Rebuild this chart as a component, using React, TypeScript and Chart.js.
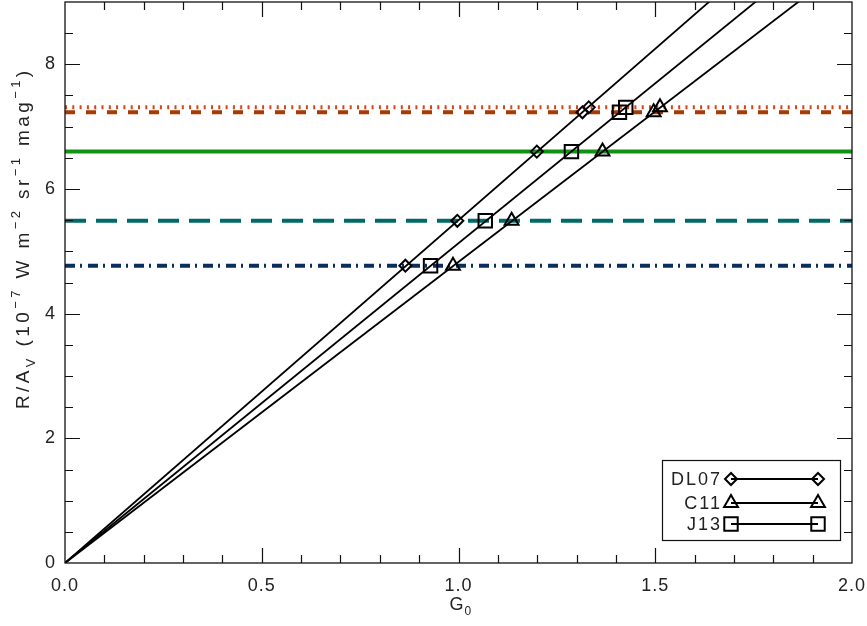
import React, { useEffect, useRef } from 'react';
import { Chart, registerables } from 'chart.js';

Chart.register(...registerables);

// ---- data ----
const LEVELS = [4.77, 5.49, 6.6, 7.23, 7.31];
const LINE_X = [0.0, 2.0];
const DL07_LINE_Y = [0.0, 11.0];
const C11_LINE_Y = [0.0, 9.66];
const J13_LINE_Y = [0.0, 10.26];
const DL07_X = [0.865, 0.997, 1.199, 1.315, 1.331];
const C11_X = [0.986, 1.135, 1.366, 1.496, 1.512];
const J13_X = [0.929, 1.068, 1.287, 1.409, 1.425];
const LEGEND_LABELS = ['DL07', 'C11', 'J13'];
const X_RANGE = [0, 2];
const Y_RANGE = [0, 9];
const X_MAJOR_STEP = 0.5;
const X_MINOR_STEP = 0.1;
const Y_MAJOR_STEP = 2;
const Y_MINOR_STEP = 0.5;

// ---- styles ----
const LEVEL_STYLES = [
  { color: '#0b2d5f', dash: [10, 5, 2, 6], width: 4 },
  { color: '#006a6a', dash: [21, 10], width: 4 },
  { color: '#129212', dash: [], width: 4 },
  { color: '#a83a06', dash: [10, 11], width: 4 },
  { color: '#d6441c', dash: [2, 5.3], width: 4 },
];
const MARKERS = [
  { style: 'rectRot', radius: 6 },
  { style: 'triangle', radius: 8 },
  { style: 'rect', radius: 9.5 },
];
const FONT = '"Liberation Sans", Arial, sans-serif';
const TEXT_COLOR = '#222';

function drawMarker(ctx: CanvasRenderingContext2D, style: string, r: number, x: number, y: number) {
  ctx.beginPath();
  if (style === 'rectRot') {
    ctx.moveTo(x, y - r);
    ctx.lineTo(x + r, y);
    ctx.lineTo(x, y + r);
    ctx.lineTo(x - r, y);
    ctx.closePath();
  } else if (style === 'triangle') {
    const a = (2 * Math.PI) / 3;
    ctx.moveTo(x, y - r);
    ctx.lineTo(x + Math.sin(a) * r, y - Math.cos(a) * r);
    ctx.lineTo(x + Math.sin(2 * a) * r, y - Math.cos(2 * a) * r);
    ctx.closePath();
  } else {
    const s = r * Math.SQRT1_2;
    ctx.rect(x - s, y - s, 2 * s, 2 * s);
  }
  ctx.stroke();
}

type Part = { t: string; k: 'n' | 'sub' | 'sup' };

function drawRich(ctx: CanvasRenderingContext2D, parts: Part[], x: number, y: number, size: number) {
  let cx = x;
  for (const p of parts) {
    if (p.k === 'n') {
      ctx.font = `${size}px ${FONT}`;
      ctx.fillText(p.t, cx, y);
      cx += ctx.measureText(p.t).width;
    } else {
      const s = Math.round(size * 0.68);
      ctx.font = `${s}px ${FONT}`;
      const dy = p.k === 'sub' ? size * 0.3 : -size * 0.45;
      ctx.fillText(p.t, cx, y + dy);
      cx += ctx.measureText(p.t).width;
    }
  }
  return cx - x;
}

const framePlugin = {
  id: 'idlFrame',
  beforeDraw(chart: any) {
    (chart.ctx as any).letterSpacing = '1px';
  },
  afterDraw(chart: any) {
    const { ctx, chartArea: a, scales } = chart;
    const xs = scales.x;
    const ys = scales.y;
    ctx.save();
    ctx.strokeStyle = '#111';
    ctx.lineWidth = 1.3;
    ctx.strokeRect(a.left, a.top, a.right - a.left, a.bottom - a.top);
    // ticks
    ctx.beginPath();
    const nx = Math.round((X_RANGE[1] - X_RANGE[0]) / X_MINOR_STEP);
    for (let i = 1; i < nx; i++) {
      const v = X_RANGE[0] + i * X_MINOR_STEP;
      const major = Math.abs(v / X_MAJOR_STEP - Math.round(v / X_MAJOR_STEP)) < 1e-6;
      const len = major ? 15 : 8;
      const px = Math.round(xs.getPixelForValue(v)) + 0.5;
      ctx.moveTo(px, a.bottom);
      ctx.lineTo(px, a.bottom - len);
      ctx.moveTo(px, a.top);
      ctx.lineTo(px, a.top + len);
    }
    const ny = Math.round((Y_RANGE[1] - Y_RANGE[0]) / Y_MINOR_STEP);
    for (let i = 1; i < ny; i++) {
      const v = Y_RANGE[0] + i * Y_MINOR_STEP;
      const major = Math.abs(v / Y_MAJOR_STEP - Math.round(v / Y_MAJOR_STEP)) < 1e-6;
      const len = major ? 15 : 8;
      const py = Math.round(ys.getPixelForValue(v)) + 0.5;
      ctx.moveTo(a.left, py);
      ctx.lineTo(a.left + len, py);
      ctx.moveTo(a.right, py);
      ctx.lineTo(a.right - len, py);
    }
    ctx.lineWidth = 1.2;
    ctx.stroke();

    // axis titles
    ctx.fillStyle = TEXT_COLOR;
    ctx.textBaseline = 'alphabetic';
    ctx.textAlign = 'left';
    ctx.letterSpacing = '1px';
    const xt: Part[] = [
      { t: 'G', k: 'n' },
      { t: '0', k: 'sub' },
    ];
    drawRich(ctx, xt, (a.left + a.right) / 2 - 9, 610, 18);

    const yt: Part[] = [
      { t: 'R/A', k: 'n' },
      { t: 'V', k: 'sub' },
      { t: ' (10', k: 'n' },
      { t: '\u22127', k: 'sup' },
      { t: ' W m', k: 'n' },
      { t: '\u22122', k: 'sup' },
      { t: ' sr', k: 'n' },
      { t: '\u22121', k: 'sup' },
      { t: ' mag', k: 'n' },
      { t: '\u22121', k: 'sup' },
      { t: ')', k: 'n' },
    ];
    ctx.letterSpacing = '3.4px';
    ctx.save();
    ctx.translate(29, 409);
    ctx.rotate(-Math.PI / 2);
    drawRich(ctx, yt, 0, 0, 19);
    ctx.restore();

    // legend
    const bx = 662, by = 460, bw = 178, bh = 80;
    ctx.fillStyle = '#fff';
    ctx.fillRect(bx, by, bw, bh);
    ctx.strokeStyle = '#111';
    ctx.lineWidth = 1.2;
    ctx.strokeRect(bx + 0.5, by + 0.5, bw, bh);
    const rowsY = [479, 503, 524];
    ctx.letterSpacing = '2px';
    LEGEND_LABELS.forEach((lab, i) => {
      const y = rowsY[i];
      ctx.fillStyle = TEXT_COLOR;
      ctx.font = `18px ${FONT}`;
      ctx.textAlign = 'right';
      ctx.textBaseline = 'middle';
      ctx.fillText(lab, 722, y + 1);
      ctx.strokeStyle = '#000';
      ctx.lineWidth = 1.8;
      ctx.beginPath();
      ctx.moveTo(731, y);
      ctx.lineTo(818, y);
      ctx.stroke();
      ctx.lineWidth = 2;
      drawMarker(ctx, MARKERS[i].style, MARKERS[i].radius, 731, y);
      drawMarker(ctx, MARKERS[i].style, MARKERS[i].radius, 818, y);
    });
    ctx.restore();
  },
};

export default function App() {
  const ref = useRef<HTMLCanvasElement | null>(null);

  useEffect(() => {
    document.body.style.margin = '0';
    const canvas = ref.current;
    if (!canvas) return;

    const markerSets = [DL07_X, C11_X, J13_X].map((xsArr, i) => ({
      type: 'line' as const,
      label: LEGEND_LABELS[i] + ' points',
      data: xsArr.map((x, j) => ({ x, y: LEVELS[j] })),
      showLine: false,
      pointStyle: MARKERS[i].style,
      pointRadius: MARKERS[i].radius,
      pointBorderWidth: 2,
      pointBorderColor: '#000',
      pointBackgroundColor: 'rgba(0,0,0,0)',
      order: 0,
    }));

    const lineSets = [DL07_LINE_Y, C11_LINE_Y, J13_LINE_Y].map((ys, i) => ({
      type: 'line' as const,
      label: LEGEND_LABELS[i],
      data: LINE_X.map((x, j) => ({ x, y: ys[j] })),
      borderColor: '#000',
      borderWidth: 1.8,
      pointRadius: 0,
      order: 1,
    }));

    const levelSets = LEVELS.map((lv, i) => ({
      type: 'line' as const,
      label: 'level ' + i,
      data: X_RANGE.map((x) => ({ x, y: lv })),
      borderColor: LEVEL_STYLES[i].color,
      borderWidth: LEVEL_STYLES[i].width,
      borderDash: LEVEL_STYLES[i].dash,
      borderCapStyle: 'butt',
      pointRadius: 0,
      order: 2,
    }));

    const chart = new Chart(canvas, {
      type: 'line',
      data: { datasets: [...markerSets, ...lineSets, ...levelSets] as any },
      options: {
        animation: false,
        responsive: false,
        devicePixelRatio: 1,
        layout: { autoPadding: false, padding: { top: 2, right: 15, left: 0, bottom: 0 } },
        plugins: { legend: { display: false }, tooltip: { enabled: false } },
        scales: {
          x: {
            type: 'linear',
            min: X_RANGE[0],
            max: X_RANGE[1],
            grid: { display: false, drawTicks: false },
            border: { display: false },
            ticks: {
              stepSize: X_MAJOR_STEP,
              callback: (v: any) => Number(v).toFixed(1),
              font: { family: FONT, size: 18 },
              color: TEXT_COLOR,
              padding: 12,
              maxRotation: 0,
              autoSkip: false,
            },
            afterFit: (s: any) => {
              s.height = 63;
              s.paddingLeft = 0;
              s.paddingRight = 0;
            },
          },
          y: {
            type: 'linear',
            min: Y_RANGE[0],
            max: Y_RANGE[1],
            grid: { display: false, drawTicks: false },
            border: { display: false },
            ticks: {
              stepSize: Y_MAJOR_STEP,
              includeBounds: false,
              callback: (v: any) => String(v),
              font: { family: FONT, size: 18 },
              color: TEXT_COLOR,
              padding: 9,
            },
            afterFit: (s: any) => {
              s.width = 65;
              s.paddingTop = 0;
              s.paddingBottom = 0;
            },
          },
        },
      },
      plugins: [framePlugin],
    });
    return () => chart.destroy();
  }, []);

  return (
    <div style={{ width: 867, height: 626, background: '#fff' }}>
      <canvas ref={ref} width={867} height={626} style={{ display: 'block' }} />
    </div>
  );
}
